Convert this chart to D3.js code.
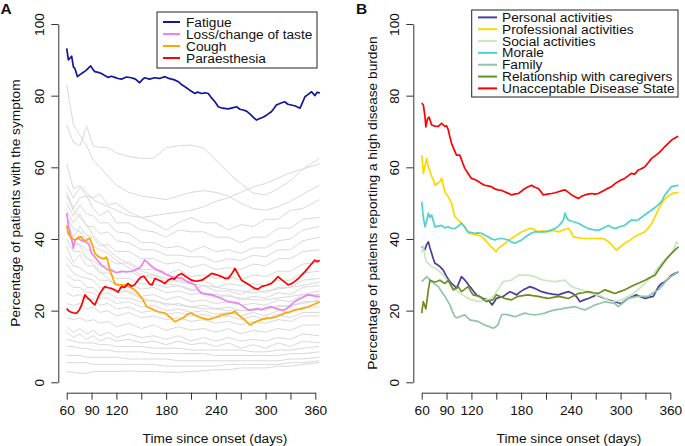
<!DOCTYPE html>
<html><head><meta charset="utf-8">
<script src="https://cdn.jsdelivr.net/npm/d3@7/dist/d3.min.js"></script>
<style>
body{margin:0;background:#fff;}
svg{display:block;font-family:"Liberation Sans",Arial,Helvetica,sans-serif;}
</style></head><body>
<svg id="c" width="685" height="446"></svg>
<script>
// ---------- DATA ----------
const xTicks = [60, 90, 120, 150, 180, 210, 240, 270, 300, 330, 360];
const xTickLabels = [60, 90, 120, 180, 240, 300, 360];
const yTicks = [0, 20, 40, 60, 80, 100];

const legendA = ["Fatigue", "Loss/change of taste", "Cough", "Paraesthesia"];
const legendB = ["Personal activities", "Professional activities", "Social activities", "Morale", "Family", "Relationship with caregivers", "Unacceptable Disease State"];

// Panel A highlighted symptoms (day, %)
const fatigue = [[60,93.2],[62,90.0],[64,90.5],[66,91.0],[68,88.1],[70,87.5],[73,85.3],[78,86.2],[83,87],[89,88.3],[92,87.2],[94,86.7],[98,86.5],[102,86.2],[106,85.6],[110,85.1],[114,85.4],[118,85.1],[122,84.8],[126,84.6],[132,85.2],[138,85],[143,84.6],[148,83.6],[151,84.4],[154,85],[160,84.6],[166,85],[172,84.8],[178.6,85.3],[182,84.9],[186.7,84.6],[190,84.4],[194.7,83.9],[198,83.2],[202.7,82.5],[208,81.6],[214.8,80.6],[218,81],[222.8,80.6],[227,80.8],[230.8,80.6],[234,79.6],[238.9,78.3],[242.9,76.9],[248,76.5],[255,76.3],[260,76.6],[265,76.9],[269,76.2],[273,76],[277,75.7],[281,74.9],[285,74],[289,73.2],[293,73.6],[297,74],[302,74.7],[307,75.5],[310,76.4],[313,77.4],[318,77.9],[323,78.3],[327,77.6],[331,77.4],[336,77.1],[341.5,76.5],[344,77.8],[347.5,79.7],[351,80.3],[355.5,81.1],[359.5,80],[362,80.9],[365.5,80.8]];
const taste = [[60,47.2],[62,44],[64,41.5],[66,40],[68,37.4],[70,39.8],[74,40.2],[78,39.5],[84,39.1],[87,38.4],[90,36],[94,35],[98,33.8],[102,32.7],[106,32],[110,31.4],[114,31.3],[120,30.6],[126,31],[132,30.8],[138,31],[142,31.3],[148,31.9],[151,32.8],[154,34.1],[158,33.4],[162.5,32.3],[168,31.5],[174.6,30.9],[180,30.1],[186.7,29.5],[192,29.2],[198.7,29.1],[205,28.1],[210.8,27.6],[214.8,27.2],[218,26.0],[222.8,24.8],[228,24.6],[234.9,24.4],[240,24],[247,23.4],[251,22.9],[255,22.5],[261,22.3],[267,22.1],[273,21.2],[279,20.2],[285,20.3],[290,20.6],[295,20.3],[301,20.8],[307,21.1],[312,20.6],[317,20.3],[323,20.2],[328,21],[335,22.5],[340,23.2],[346,23.9],[351.5,24.4],[358,24.1],[365.5,23.9]];
const cough = [[60,43.8],[62,41.5],[66,40.2],[70,39.7],[74,40.5],[78,40.6],[81,39.5],[84,39.7],[88,40.2],[91,38.2],[94,36],[98,35.1],[102,34.6],[105,34.5],[108,35],[110,33.4],[112,31.3],[115,29.5],[118,27.6],[122,27.2],[126,27.2],[130,27.2],[136,26.6],[142,25.8],[147,24.6],[152,23],[156.5,21.1],[162,20.6],[166,20.1],[170.5,19.7],[178.6,19.3],[184,18.3],[190.6,16.9],[196,17.5],[202.7,18.3],[206,19.1],[210.8,19.3],[214,18.8],[218.8,18.3],[224,17.9],[230.8,17.5],[238,18],[247,18.8],[252,19],[259,19.3],[263,19.8],[267,18.8],[271,18.1],[276,17.2],[281,16],[286,16.6],[290,17.1],[295,17.5],[301,17.9],[307,18],[312,18.2],[317,18.7],[323,19.3],[329,19.6],[335,20.2],[343,20.5],[351.5,21.1],[358,21.7],[365.5,22.5]];
const paraesthesia = [[60,20.6],[62,20],[64,19.7],[68,19.4],[72,19.3],[75,20.1],[78,21.6],[80,23],[82,24.4],[85,23.6],[88,23],[91,22.2],[94,21.6],[97,23.2],[100,24.8],[103,25.8],[106,26.7],[110,26.4],[114,26.2],[118,25.8],[122,25.2],[126,26.7],[130,26.5],[134,27.6],[138,26.8],[142,27.2],[146,28.5],[150,29.4],[153,29.6],[156,28.7],[160,27.4],[163,27.2],[166.5,29],[170,28.6],[174,28.2],[178.6,27.6],[182,28.5],[186.7,29],[190,28.8],[194,29.8],[198.7,30.4],[202,29.8],[206,29.2],[210.8,28.5],[216,28.2],[223,28.5],[229,29.4],[235,30.4],[241,30],[247,29.5],[251,29],[255,29],[259,30.2],[263,31.8],[267,30.1],[271,28.5],[276,27.8],[281,27.1],[287,26.2],[291,26],[295,26.7],[301,27.1],[307,27.6],[311,28.5],[315,29.5],[320,28.5],[324,27.8],[327,27.2],[331,27.5],[335,28.1],[341,29.3],[347.5,30.9],[353,32.4],[359.5,34.1],[362,33.7],[365.5,34]];

// Panel A background (grey) symptoms
const greyDays = [60,68,76,84,92,100,110,120,135,150,165,180,195,210,225,240,255,270,285,300,315,330,345,365];
const grey01 = [83,72,69,66,62,60,57.5,55,53,52,51.5,51,52,53,53.5,53,52,50,48.5,48,49,50.5,52.5,55];
const grey02 = [72,67,66,71.5,66,65.5,65.5,64,63,62.5,62.5,65.5,66,66.2,65.4,62,58.5,55.5,52.8,52.3,54,56.3,59.5,62.5];
const grey03 = [61,54,55,53,51,50,49,48,46.5,46,46.5,47,47.5,48,49,50.5,51.5,53,54.5,55.5,57,58.5,59.5,61];
const grey04 = [55,51.5,54.5,52,51.5,52.5,49.5,50,47.5,46,44.5,42.5,44.5,46,44.5,44.5,42.5,44,43.5,45.5,45.5,48,48.5,51];
const grey05 = [53,48.5,51.5,52,48.5,46.5,48,44.5,44.5,42.5,42,40.5,42.5,42,42,40.5,40.5,39,40.5,40.5,43,43,45.5,46];
const grey06 = [50,46.5,49.5,47,46.5,44.5,44.5,42,41.5,39,39,37.5,38,36.5,38,36.5,37,36,37.5,37.5,39.5,40,42.5,43.5];
const grey07 = [48,44.5,47,43.5,43.5,41.5,42,39.5,39,37,37,35.5,35.5,35,35,33.5,34.5,34,35.5,35,37,37,39.5,40.5];
const grey08 = [45,40.5,43.5,41,40.5,38,38.5,36.5,36.5,34.5,34.5,33,33.5,32,33,31.5,32,31.5,33,32.5,34.5,34.5,36.5,37];
const grey09 = [42,38.5,38.5,37,36.5,35,34.5,33,33.5,31.5,31.5,30,31.5,29.5,30,29,29.5,28.5,30,29.5,31,31,33,33.5];
const grey10 = [40,36.5,36.5,34.5,34,32.5,32.5,30.5,31,29.5,30,28,28.5,28,28.5,26.5,27.5,27,27.5,27,28.5,28.5,30.5,31];
const grey11 = [38,33.5,35.5,32.5,32.5,30.5,30.5,29,29,27.5,27.5,26.5,27,25.5,27,25.5,25.5,24.5,26,25,26.5,26.5,28.5,29];
const grey12 = [35,32.5,32,30.5,30,28.5,28.5,27,27.5,26,26.5,25,25.5,24.5,25,23.5,24.5,23,24,23.5,25,24.5,26.5,27];
const grey13 = [33,30.5,29.5,29,28.5,26.5,26.5,25,25.5,24,24.5,23,24,22.5,23,22,22.5,21.5,22,21.5,23,22.5,24.5,24.5];
const grey14 = [30,28.5,28.5,26.5,26.5,24.5,25,23.5,23.5,22.5,23,21.5,22,21,21.5,20.5,21,20,20.5,20,21.5,21,22.5,22.5];
const grey15 = [28,26.5,26.5,25,25,23.5,23.5,22,22.5,21,21.5,20,20.5,19.5,20,19,19.5,18.5,19.5,18.5,20,19.5,21,21];
const grey16 = [25,24,24.5,23,23,21.5,22,20.5,21,19.5,20,19,19.5,18.5,19,18,18.5,17.5,18.5,17.5,19,18,19.5,19.5];
const grey17 = [22,21.5,22,20.5,21,19.5,20,18.5,19.5,18,18.5,17.5,18,17,17.5,16.5,17,16,17,16.5,17.5,17,18.5,18.5];
const grey18 = [18,17.5,18,17,17.5,16.5,17,15.5,16.5,15,16,14.5,15.5,14.5,15,14,15,13.5,14.5,14,15,14.5,16,16];
const grey19 = [15.5,14,15,13.5,14.5,13,14,12.5,13.5,12.5,13,12,13,11.5,12.5,11.5,12.5,11.5,12,11.5,12.5,12,13.5,13];
const grey20 = [14,12.5,13.5,12,13,11.5,12.5,11.5,12,11,11.5,10.5,11.5,10.5,11,10,11,9.5,10.5,9.5,11,10,11.5,11];
const grey21 = [12,11.5,11,11,11,10.5,10.5,10,10,10,9.5,9.5,9.5,9,9,9,9,9,8.5,8.5,9,9,9.5,10];
const grey22 = [10,10,9.5,9.5,9,9,9,8.5,8.5,8.5,8,8,8,8,8,7.5,7.5,7.5,7.5,7.5,7.5,8,8,8.5];
const grey23 = [7.5,7.5,7.5,7,7,7,7,7,6.5,6.5,6.5,6.5,6,6,6,6,6,6,6,6,6,6.5,6.5,7];
const grey24 = [5.5,5.5,5.5,5.5,5,5,5,5,5,5,5,4.5,4.5,4.5,4.5,4.5,5,5,5,5,5,5.5,5.5,6];
const grey25 = [3,2.8,2.5,2.5,3,3,3,3,3.2,3,3,2.8,2.8,3,3.2,3.5,3.5,4,4,4,4.5,4.5,5,5.5];
const grey26 = [52,48,46,44,41,39,37,35,33,31,30,29,28,27.5,27,26.5,26,25.5,25,25.5,26,26.5,27,28];
const grey27 = [46,43,42,40,38,37,36,34,32,30,29,27.5,27,26,25,24.5,24,23.5,23,23,23.5,24,24.5,25.5];
const grey28 = [44,40,38,35,33,31,29,27,25,23.5,22.5,22,21.5,21,20.5,20.5,20,20,20,20.5,21,21.5,22,23];
const greySeries = [grey01,grey02,grey03,grey04,grey05,grey06,grey07,grey08,grey09,grey10,grey11,grey12,grey13,grey14,grey15,grey16,grey17,grey18,grey19,grey20,grey21,grey22,grey23,grey24,grey25,grey26,grey27,grey28];

// Panel B disease burden (day, %)
const personal = [[60,37.8],[62,37.5],[64,37],[66,38.5],[68,39.2],[70,37.5],[72,36],[74,34.5],[76,33.2],[79,32.8],[82,32.3],[86,31.3],[90,29.5],[93,28.5],[96,27.6],[99,27],[102,26.2],[105,27.8],[108,29.5],[111,28.8],[114,28],[117,27],[120,26.2],[123,25.3],[126,24.4],[130,23.9],[134,23.4],[137,23.2],[140,23],[143,22.2],[145,21.6],[148,22.6],[150,23.4],[154,23.7],[158.6,24],[162,24.6],[166.5,25.3],[170,24.9],[174.6,24.4],[178,25.1],[182.6,25.8],[186,26.2],[190.6,26.7],[193,26.5],[196.7,26.2],[200,25.8],[204.7,25.3],[208,25.1],[212.7,24.8],[218,24.6],[225,24.4],[231,24.9],[237,25.3],[241,24.9],[245,24.4],[248,23.5],[251,22.5],[256,23],[261,23.4],[266,23.9],[271,24.4],[276,23.9],[281,23.4],[287,22.9],[293,22.5],[297,22.2],[301,22],[305,22.7],[309,23.4],[314,23.9],[319,24.4],[324,23.9],[329.5,23.4],[334,23.7],[339.5,24],[343,25.5],[346,26.8],[349.5,27.6],[353,28],[357,28.8],[361.5,29.9],[366,30.4],[370,30.8]];
const professional = [[60,63.4],[62,58.3],[64,60.5],[66,62.5],[68,60],[70,59],[72,57.4],[74,56.5],[76,55],[79,55.5],[82,56],[84,57],[86,55],[88,53.2],[92,51.8],[96,50],[100,46.2],[104,45.3],[108,44.5],[112,43.5],[116,41.6],[120,41.5],[124,41.2],[128,41],[132,40.8],[136,39.8],[140,38.8],[144,37.8],[148,36.9],[150,36.5],[152,37.3],[156,38],[160.5,38.8],[164,39.5],[168.6,40.2],[174,41],[180.6,42],[186,42.5],[190.6,43],[196,42.6],[200.7,42],[206,42.3],[212.7,42],[218,42.4],[225,42],[231,42.5],[236.9,43],[240,42],[243,40.6],[248,40.4],[253,40.2],[259,40.1],[265,40.2],[271,40.1],[277,40.2],[281,39.9],[285,39.3],[289,38.5],[292,37.6],[295,36.9],[300,37.9],[305,38.8],[311,39.6],[317,40.6],[323,41.3],[329.5,42],[333,43],[337.5,44.3],[341.5,46.2],[345.5,48.2],[349.5,50],[354,51.3],[359.5,52.3],[364,52.8],[370,53]];
const social = [[60,36],[62,38],[64,35],[66,33.5],[68,33.2],[72,32.3],[76,31.8],[80,31.3],[84,30.4],[88,29.5],[92,28],[96,26.7],[100,26],[104,25.3],[108,24.6],[112,24],[116,23.5],[120,23],[124,22.8],[128,22.5],[132,22.8],[136,23],[140,23.2],[144,23.4],[148,24.6],[152,25.8],[155,27],[158.6,28.1],[163,28.3],[168.6,28.5],[172,29.2],[176.6,29.9],[182,29.9],[188.6,29.9],[192,29.7],[196.7,29.5],[201,29],[206.7,28.5],[213,28.3],[220.8,28.1],[227,28.3],[233,28.5],[237,27.6],[241,26.7],[247,26.2],[253,25.8],[259,25.3],[265,24.8],[271,24.4],[277,24],[283,23.2],[289,22.5],[295,22.7],[301,23],[307,23.7],[313,24.4],[319,25.5],[325.5,26.7],[331,28],[337.5,29.5],[343,31.3],[349.5,33.2],[355,34.6],[361.5,36],[365,37.5],[367,39.2],[370,38.6]];
const morale = [[60,50.4],[62,46],[64,43.4],[66,45],[68,47.2],[70,46],[72,46.7],[74,45],[76,43.4],[80,43.6],[84,43.8],[88,43.1],[92,43.4],[96,43],[100,42.9],[104,43.6],[108,44.4],[112,43.2],[116,42],[120,41.8],[124,41.6],[128,41.7],[132,41.6],[136,41.1],[140,40.6],[144,40.1],[148,39.7],[152,40],[156,40.2],[160,40],[164.5,39.7],[168,39.2],[172.6,38.8],[176,39.2],[180.6,39.7],[184,40.4],[188.6,41.1],[192,41.6],[196.7,42],[202,42],[208.8,42],[215,42.4],[221,42.9],[226,43.8],[231,45.3],[233,47.2],[235,46],[237,45.3],[243,44.8],[249,44.4],[255,43.6],[261,42.9],[267,42.6],[273,42.4],[279,43],[285,43.8],[289,43.3],[293,42.9],[299,43.4],[305,43.8],[309,44.6],[313,45.3],[317,45.2],[321,45.3],[325,46],[329,46.7],[333,47.4],[337.5,48.1],[341.5,48.8],[345.5,49.5],[349.5,50.5],[353.5,52.3],[357.5,53.5],[361.5,54.6],[365.5,54.8],[370,55]];
const family = [[60,28.1],[63,28.8],[66,29.5],[69,28.8],[72,28.1],[76,27.4],[80,26.7],[84,25.3],[88,24],[91,22.8],[94,21.6],[97,19.8],[100,18.3],[103,18],[106,18.3],[109,18.6],[112,18.8],[115,18.1],[118,17.4],[123,17.2],[128,17],[132,16.5],[136,16],[141,15.6],[146,15.1],[149,15.4],[152,16],[154,17.4],[156.5,18.8],[160,19],[164.5,18.8],[168,18.6],[172.6,18.3],[178,18.8],[184.6,19.3],[190,19],[196.7,18.8],[202,19],[208.8,19.3],[214,19.8],[220.8,20.2],[227,20.4],[233,20.7],[239,20.9],[245,21.1],[251,20.6],[257,20.2],[263,20.9],[269,21.6],[275,22],[281,22.5],[287,22.2],[293,22],[297,21.1],[303,22.2],[309,23.4],[315,23.7],[321,24],[327,24],[333.5,24],[339,24.9],[345.5,25.8],[351,27.2],[357.5,29],[363,29.8],[367,30.4],[370,30.8]];
const caregivers = [[60,19.3],[61,21],[62,22.5],[63.5,21.5],[65,20.5],[66.5,23],[68,25.8],[70,28.5],[73,28.2],[76,28],[79,28.2],[82,28.5],[85,28],[88,27.6],[90,28],[92,28.5],[95,27.2],[98,25.8],[101,26.2],[104,26.7],[106,26],[108,25.3],[112,26],[116,26.7],[119,25.5],[122,24.4],[126,24.2],[130,24],[134,23.2],[138,22.5],[142,22.8],[146,23],[150,24.4],[155,23.9],[160.5,23.4],[164,23.2],[168.6,23],[172,23.5],[176.6,24],[182,24.2],[188.6,24.4],[194,24.2],[200.7,24],[206,23.7],[212.7,23.4],[219,23.7],[225,24],[231,23.7],[237,23.4],[243,24.1],[249,24.8],[255,25],[261,25.3],[267,25],[273,24.8],[277,25.3],[281,25.8],[287,25.3],[293,24.8],[299,25.3],[305,25.8],[311,26.5],[317,27.2],[323,27.8],[329.5,28.5],[335,29.2],[341.5,29.9],[346,31.5],[351.5,33.2],[356,34.6],[361.5,36],[366,37],[370,37.8]];
const unacceptable = [[60,77.9],[62,77.4],[64,74],[65,71.3],[67,73.5],[69,74],[72,71.8],[76,71.5],[80,71.4],[84,72.3],[88,71.4],[90,71.6],[92,70.5],[94,68.5],[96,66.7],[99,65],[102,63.4],[106,63.4],[109,61.5],[112,59.7],[116,58.3],[120,56.9],[124,56.6],[128,56.1],[132,55.5],[136,55],[140,54.8],[144,54.6],[148,54],[152,53.7],[156,53.6],[160,53.2],[164,52.8],[168.6,52.3],[172,52.5],[176.6,52.7],[180,53.3],[184.6,54.1],[188,54.5],[192.7,55],[196,54.5],[200.7,54.1],[204,53.2],[206.7,52.3],[212,52.5],[216.8,52.7],[221,52.9],[225,53.2],[229,53.5],[233,53.7],[237,53],[241,52.3],[245,51.8],[249,51.3],[253,51.9],[257,52.3],[261,52.5],[265,52.7],[269,52.5],[273,52.7],[277,53.2],[281,53.7],[285,54.2],[289,54.6],[293,55.4],[297,56],[301,56.5],[305,56.9],[309,57.6],[313,58.3],[317,58.1],[321,59.2],[325,59.6],[329,60.1],[333,61.2],[337.5,62.5],[341.5,63.2],[345.5,63.9],[349.5,64.8],[353.5,65.8],[357.5,66.7],[361.5,67.6],[365.5,68.2],[369.5,68.7]];

// ---------- STYLE ----------
const colorsA = ["#12169a", "#ee82ee", "#ffa500", "#ff0000"];
const colorsB = ["#4b3d9b", "#ffd700", "#c8e8c4", "#4fd1d0", "#90c4ab", "#6b8e23", "#ff0000"];
const greyColor = "#d9d9d9";
const FONT = 13.7;

const svg = d3.select("#c");

function panel(opt) {
  const x = d3.scaleLinear().domain([60, 360]).range([opt.x0, opt.x1]);
  const y = d3.scaleLinear().domain([0, 100]).range([382.3, 24]);
  const g = svg.append("g");
  const line = d3.line().x(d => x(d[0])).y(d => y(d[1]));

  (opt.bg || []).forEach(s => {
    g.append("path").datum(s).attr("d", line).attr("fill", "none")
      .attr("stroke", greyColor).attr("stroke-width", 1);
  });
  opt.series.forEach(s => {
    g.append("path").datum(s.data).attr("d", line).attr("fill", "none")
      .attr("stroke", s.color).attr("stroke-width", 1.7).attr("stroke-linejoin", "round");
  });

  // x axis
  const xa = g.append("g").attr("transform", "translate(0,392.7)")
    .call(d3.axisBottom(x).tickValues(xTicks).tickSize(7).tickSizeOuter(0).tickPadding(6)
      .tickFormat(d => xTickLabels.includes(d) ? String(d) : ""));
  // y axis
  const ya = g.append("g").attr("transform", `translate(${opt.yAxisX},0)`)
    .call(d3.axisLeft(y).tickValues(yTicks).tickSize(7).tickSizeOuter(0));
  [xa, ya].forEach(a => {
    a.selectAll("path,line").attr("stroke", "#333");
    a.selectAll("text").attr("font-size", FONT).attr("fill", "#111")
      .attr("font-family", "Liberation Sans, Arial, sans-serif");
  });
  ya.selectAll("text").attr("x", null).attr("dy", null).attr("text-anchor", "middle")
    .attr("transform", "translate(-14,0) rotate(-90)");

  // axis titles
  g.append("text").attr("x", opt.xTitleX).attr("y", 443).attr("text-anchor", "middle")
    .attr("font-size", FONT).attr("fill", "#111").text("Time since onset (days)");
  g.append("text").attr("transform", `translate(${opt.yTitleX},203) rotate(-90)`)
    .attr("text-anchor", "middle").attr("dy", "0.35em")
    .attr("font-size", FONT).attr("fill", "#111").text(opt.yTitle);

  // panel letter
  g.append("text").attr("x", opt.letterX).attr("y", 14).attr("font-size", 15.5)
    .attr("font-weight", "bold").attr("fill", "#111").text(opt.letter);

  // legend
  const L = opt.legend;
  g.append("rect").attr("x", L.x).attr("y", L.y).attr("width", L.w).attr("height", L.h)
    .attr("fill", "#fff").attr("stroke", "#222").attr("stroke-width", 1);
  opt.series.forEach((s, i) => {
    const cy = L.row0 + i * L.step;
    g.append("line").attr("x1", L.lx0).attr("x2", L.lx1).attr("y1", cy).attr("y2", cy)
      .attr("stroke", s.color).attr("stroke-width", 2);
    g.append("text").attr("x", L.tx).attr("y", cy + 4.6).attr("font-size", FONT)
      .attr("fill", "#111").text(s.name);
  });
}

const seriesA = [fatigue, taste, cough, paraesthesia].map((d, i) => ({name: legendA[i], color: colorsA[i], data: d}));
const greyA = greySeries.map(vals => vals.map((v, i) => [greyDays[i], v]));
panel({
  x0: 66.7, x1: 315.3, yAxisX: 58.3, xTitleX: 215, yTitleX: 15,
  yTitle: "Percentage of patients with the symptom", letter: "A", letterX: 0.5,
  bg: greyA,
  series: seriesA,
  legend: {x: 157, y: 12, w: 160, h: 56, row0: 22, step: 12, lx0: 163, lx1: 180, tx: 186}
});

const seriesB = [personal, professional, social, morale, family, caregivers, unacceptable]
  .map((d, i) => ({name: legendB[i], color: colorsB[i], data: d}));
panel({
  x0: 421.7, x1: 670.3, yAxisX: 413.3, xTitleX: 569, yTitleX: 372,
  yTitle: "Percentage of patients reporting a high disease burden", letter: "B", letterX: 356,
  series: seriesB,
  legend: {x: 471.7, y: 10, w: 206.3, h: 87, row0: 17.4, step: 11.83, lx0: 478, lx1: 497, tx: 502}
});
</script>
</body></html>
